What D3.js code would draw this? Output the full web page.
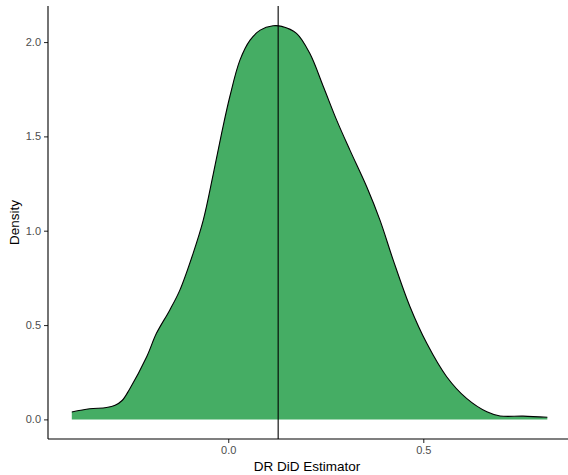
<!DOCTYPE html>
<html>
<head>
<meta charset="utf-8">
<script src="https://cdn.jsdelivr.net/npm/d3@7"></script>
<style>
  html, body { margin: 0; padding: 0; background: #fff; }
  svg { display: block; font-family: "Liberation Sans", Arial, Helvetica, sans-serif; }
</style>
</head>
<body>
<svg id="chart" width="568" height="475"></svg>
<script>
// Density estimate of the DR DiD estimator
const estimate = [-0.401, -0.355, -0.312, -0.290, -0.272, -0.253, -0.209, -0.184, -0.150, -0.124, -0.090,
                  -0.064, -0.038, -0.017, 0.004, 0.030, 0.056, 0.082, 0.115, 0.137, 0.175,
                  0.209, 0.244, 0.278, 0.312, 0.355, 0.389, 0.423, 0.466, 0.509, 0.560,
                  0.611, 0.663, 0.697, 0.756, 0.818];
const density = [0.039, 0.056, 0.063, 0.075, 0.100, 0.160, 0.332, 0.456, 0.579, 0.685, 0.880,
                 1.056, 1.304, 1.516, 1.710, 1.904, 2.010, 2.063, 2.086, 2.083, 2.046,
                 1.940, 1.763, 1.586, 1.427, 1.233, 1.056, 0.844, 0.597, 0.403, 0.226,
                 0.111, 0.040, 0.018, 0.017, 0.011];
const meanLine = 0.128;
const xTicks = [0.0, 0.5];
const yTicks = [0.0, 0.5, 1.0, 1.5, 2.0];
const xTitle = "DR DiD Estimator";
const yTitle = "Density";

const data = estimate.map((e, i) => ({ x: e, y: density[i] }));

const svg = d3.select("#chart");
const mLeft = 48, mRight = 568, mTop = 6, mBottom = 439;

const x = d3.scaleLinear().domain([-0.462, 0.871]).range([mLeft, mRight]);
const y = d3.scaleLinear().domain([-0.104, 2.191]).range([mBottom, mTop]);

const area = d3.area()
  .x(d => x(d.x)).y0(y(0)).y1(d => y(d.y))
  .curve(d3.curveCatmullRom.alpha(0.5));
const line = d3.line()
  .x(d => x(d.x)).y(d => y(d.y))
  .curve(d3.curveCatmullRom.alpha(0.5));

svg.append("path").datum(data)
  .attr("d", area)
  .attr("fill", "#45ad64");
svg.append("path").datum(data)
  .attr("d", line)
  .attr("fill", "none")
  .attr("stroke", "#000")
  .attr("stroke-width", 1.1);

svg.append("line")
  .attr("x1", x(meanLine)).attr("x2", x(meanLine))
  .attr("y1", mTop).attr("y2", mBottom)
  .attr("stroke", "#000").attr("stroke-width", 1.1);

// Axes
const xAxis = d3.axisBottom(x).tickValues(xTicks).tickFormat(d3.format(".1f")).tickSize(4).tickPadding(3);
const yAxis = d3.axisLeft(y).tickValues(yTicks).tickFormat(d3.format(".1f")).tickSize(4).tickPadding(3);

const gx = svg.append("g").attr("transform", `translate(0,${mBottom})`).call(xAxis);
const gy = svg.append("g").attr("transform", `translate(${mLeft},0)`).call(yAxis);

[gx, gy].forEach(g => {
  g.select(".domain").remove();
  g.selectAll(".tick line").attr("stroke", "#333").attr("stroke-width", 1.1);
  g.selectAll(".tick text").attr("fill", "#4d4d4d").style("font-size", "11px")
    .style("font-family", "'Liberation Sans', Arial, sans-serif");
});

svg.append("line").attr("x1", mLeft).attr("x2", mRight).attr("y1", mBottom).attr("y2", mBottom)
  .attr("stroke", "#000").attr("stroke-width", 1.1);
svg.append("line").attr("x1", mLeft).attr("x2", mLeft).attr("y1", mTop).attr("y2", mBottom)
  .attr("stroke", "#000").attr("stroke-width", 1.1);

svg.append("text")
  .attr("x", (mLeft + 566) / 2).attr("y", 471)
  .attr("text-anchor", "middle")
  .style("font-size", "13.5px").attr("fill", "#000")
  .text(xTitle);

svg.append("text")
  .attr("transform", `translate(19,${(mTop + mBottom) / 2}) rotate(-90)`)
  .attr("text-anchor", "middle")
  .style("font-size", "13.5px").attr("fill", "#000")
  .text(yTitle);
</script>
</body>
</html>
